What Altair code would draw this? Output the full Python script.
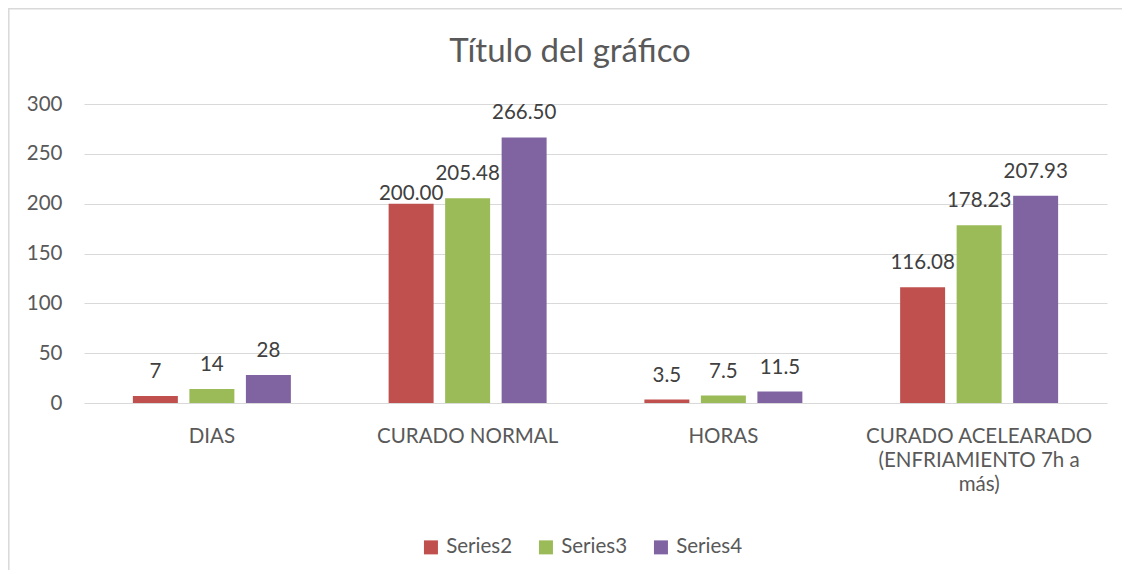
import json
import altair as alt
import pandas as pd

categories = ["DIAS", "CURADO NORMAL", "HORAS", "CURADO ACELEARADO (ENFRIAMIENTO 7h a más)"]
wrapped_last = ["CURADO ACELEARADO", "(ENFRIAMIENTO 7h a", "más)"]
series_names = ["Series2", "Series3", "Series4"]
series2 = [7, 200.00, 3.5, 116.08]
series3 = [14, 205.48, 7.5, 178.23]
series4 = [28, 266.50, 11.5, 207.93]
labels2 = ["7", "200.00", "3.5", "116.08"]
labels3 = ["14", "205.48", "7.5", "178.23"]
labels4 = ["28", "266.50", "11.5", "207.93"]
colors = ["#C0504D", "#9BBB59", "#8064A2"]
y_ticks = [0, 50, 100, 150, 200, 250, 300]
title_text = "Título del gráfico"

rows = []
for name, vals, labs in zip(series_names, [series2, series3, series4], [labels2, labels3, labels4]):
    for c, v, l in zip(categories, vals, labs):
        rows.append({"cat": c, "series": name, "value": v, "label": l})
df = pd.DataFrame(rows)

FONT = "Lato"
TXT = "#595959"
GRID = "#D9D9D9"

label_expr = "datum.value == %s ? %s : datum.label" % (
    json.dumps(categories[3], ensure_ascii=False), json.dumps(wrapped_last, ensure_ascii=False))

x = alt.X("cat:N", sort=categories, title=None,
          scale=alt.Scale(paddingInner=0, paddingOuter=0),
          axis=alt.Axis(labelAngle=0, labelExpr=label_expr, ticks=False, domain=False,
                        labelPadding=23, labelLineHeight=24, labelFont=FONT, labelLimit=0,
                        labelFontSize=20.5, labelColor=TXT, grid=False))
y = alt.Y("value:Q", title=None,
          scale=alt.Scale(domain=[0, 300], nice=False),
          axis=alt.Axis(values=y_ticks, ticks=False, domain=False, labelPadding=22,
                        labelFont=FONT, labelFontSize=20.5, labelColor=TXT,
                        gridColor=GRID, gridWidth=1))
xo = alt.XOffset("series:N", sort=series_names,
                 scale=alt.Scale(paddingInner=0.204, paddingOuter=0.865))
color = alt.Color("series:N", sort=series_names,
                  scale=alt.Scale(domain=series_names, range=colors),
                  legend=alt.Legend(title=None, orient="none", legendX=336.7, legendY=433,
                                    direction="horizontal", symbolType="square",
                                    symbolSize=196, symbolStrokeWidth=0, labelOffset=5,
                                    columnPadding=23, labelFont=FONT, labelFontSize=20.5,
                                    labelColor=TXT, padding=0))

base = alt.Chart(df)
bars = base.mark_bar().encode(x=x, y=y, xOffset=xo, color=color)

special = (alt.datum.cat == categories[1]) & (alt.datum.series == series_names[0])
text_common = dict(font=FONT, fontSize=20.5, color="#404040", baseline="alphabetic", align="center")
texts = base.mark_text(dy=-18, **text_common).encode(
    x=alt.X("cat:N", sort=categories), xOffset=alt.XOffset("series:N", sort=series_names),
    y="value:Q", text="label:N").transform_filter(~special)
text_special = base.mark_text(dy=-4, **text_common).encode(
    x=alt.X("cat:N", sort=categories), xOffset=alt.XOffset("series:N", sort=series_names),
    y="value:Q", text="label:N").transform_filter(special)

title_mark = alt.Chart(alt.Data(values=[{"t": title_text}])).mark_text(
    font=FONT, fontSize=33, color=TXT, baseline="alphabetic", align="center").encode(
    x=alt.value(486), y=alt.value(-42), text="t:N")

frame_data = alt.Data(values=[{"k": 1}])
frame_left = alt.Chart(frame_data).mark_rule(color=GRID, strokeWidth=1.5).encode(
    x=alt.value(-75.2), y=alt.value(-96), y2=alt.value(470))
frame_top = alt.Chart(frame_data).mark_rule(color=GRID, strokeWidth=1.5).encode(
    x=alt.value(-76), x2=alt.value(1040), y=alt.value(-95.2))

chart = alt.layer(bars, texts, text_special, title_mark, frame_left, frame_top).properties(
    width=1023, height=299,
    padding={"left": 76, "top": 96, "right": 15, "bottom": 167},
    autosize=alt.AutoSizeParams(type="none"),
).configure_view(stroke=None).configure_axis(labelFontWeight="normal")

chart.save("out.html", embed_options={"renderer": "svg", "actions": False})
